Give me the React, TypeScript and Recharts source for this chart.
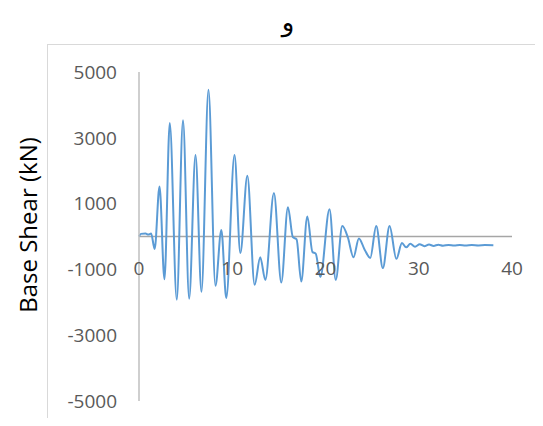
import { LineChart, Line, XAxis, YAxis, ReferenceLine } from "recharts";

// time (s)
const time = [
  0, 0.2, 0.7, 1.0, 1.3, 1.68, 2.2, 2.73, 3.3, 4.05, 4.72, 5.38, 6.06, 6.7, 7.45, 8.2, 8.83,
  9.36, 10.24, 10.87, 11.62, 12.4, 13.0, 13.55, 14.47, 15.26, 15.97, 16.5, 16.9, 17.4, 18.05,
  18.6, 18.95, 19.45, 20.43, 21.1, 21.8, 22.4, 23.0, 23.58, 24.2, 24.8, 25.44, 26.15, 26.87,
  27.6, 28.2, 28.65, 29.1, 29.6, 30.1, 30.6, 31.1, 31.6, 32.1, 32.6, 33.2, 33.8, 34.4, 35.0,
  35.7, 36.4, 37.1, 38.0,
];

// base shear (kN)
const shear = [
  0, 80, 90, 60, 90, -380, 1520, -1300, 3450, -1920, 3530, -1890, 2480, -1680, 4460, -1500, 200,
  -1870, 2480, -500, 1850, -1470, -630, -1320, 1320, -1400, 890, -20, -90, -1370, 610,
  -470, -520, -1230, 830, -1320, 320, -30, -630, -60, -400, -650, 320, -960, 320,
  -680, -200, -330, -220, -310, -235, -295, -245, -285, -250, -280, -255, -275, -258, -272,
  -260, -270, -262, -266,
];

const xTicks = [0, 10, 20, 30, 40];
const yTicks = [-5000, -3000, -1000, 1000, 3000, 5000];

const data = time.map((t, i) => ({ t, v: shear[i] }));

const font = "'Open Sans', 'DejaVu Sans', sans-serif";

// x labels sit just under the zero line, not at the bottom of the plot
const renderXTick = ({ x, y, payload }: any) => (
  <text
    key={payload.value}
    x={x}
    y={y - 133}
    textAnchor="middle"
    dominantBaseline="central"
    fill="#595959"
    fontSize={19}
    fontFamily={font}
  >
    {payload.value}
  </text>
);

export default function App() {
  return (
    <div style={{ position: "relative", width: 543, height: 426, margin: -8, overflow: "hidden", background: "#fff" }}>
      <div
        style={{
          position: "absolute",
          left: 47,
          top: 44,
          width: 560,
          height: 420,
          border: "1px solid #d9d9d9",
        }}
      />
      <div
        style={{
          position: "absolute",
          left: 288,
          top: 22,
          transform: "translate(-50%, -50%)",
          fontFamily: "'DejaVu Sans', sans-serif",
          fontSize: 26,
          lineHeight: 1,
          color: "#000",
        }}
      >
        و
      </div>
      <div
        style={{
          position: "absolute",
          left: 27,
          top: 225,
          transform: "translate(-50%, -50%) rotate(-90deg)",
          whiteSpace: "nowrap",
          fontFamily: font,
          fontSize: 24,
          color: "#000",
        }}
      >
        Base Shear (kN)
      </div>
      <div style={{ position: "absolute", left: 0, top: 0 }}>
        <LineChart width={543} height={426} data={data} margin={{ top: 72, right: 31, bottom: 0, left: 0 }}>
          <XAxis
            dataKey="t"
            type="number"
            domain={[0, 40]}
            ticks={xTicks}
            axisLine={false}
            tickLine={false}
            height={25}
            tickSize={0}
            tickMargin={0}
            tick={renderXTick}
            interval={0}
          />
          <YAxis
            type="number"
            domain={[-5000, 5000]}
            ticks={yTicks}
            width={139}
            axisLine={{ stroke: "#bfbfbf", strokeWidth: 1.5 }}
            tickLine={false}
            tickSize={0}
            tickMargin={22}
            interval={0}
            tick={{ fill: "#595959", fontSize: 19, fontFamily: font }}
          />
          <ReferenceLine y={0} stroke="#a6a6a6" strokeWidth={1.5} />
          <Line
            type="monotone"
            dataKey="v"
            stroke="#5b9bd5"
            strokeWidth={2}
            dot={false}
            isAnimationActive={false}
          />
        </LineChart>
      </div>
    </div>
  );
}
